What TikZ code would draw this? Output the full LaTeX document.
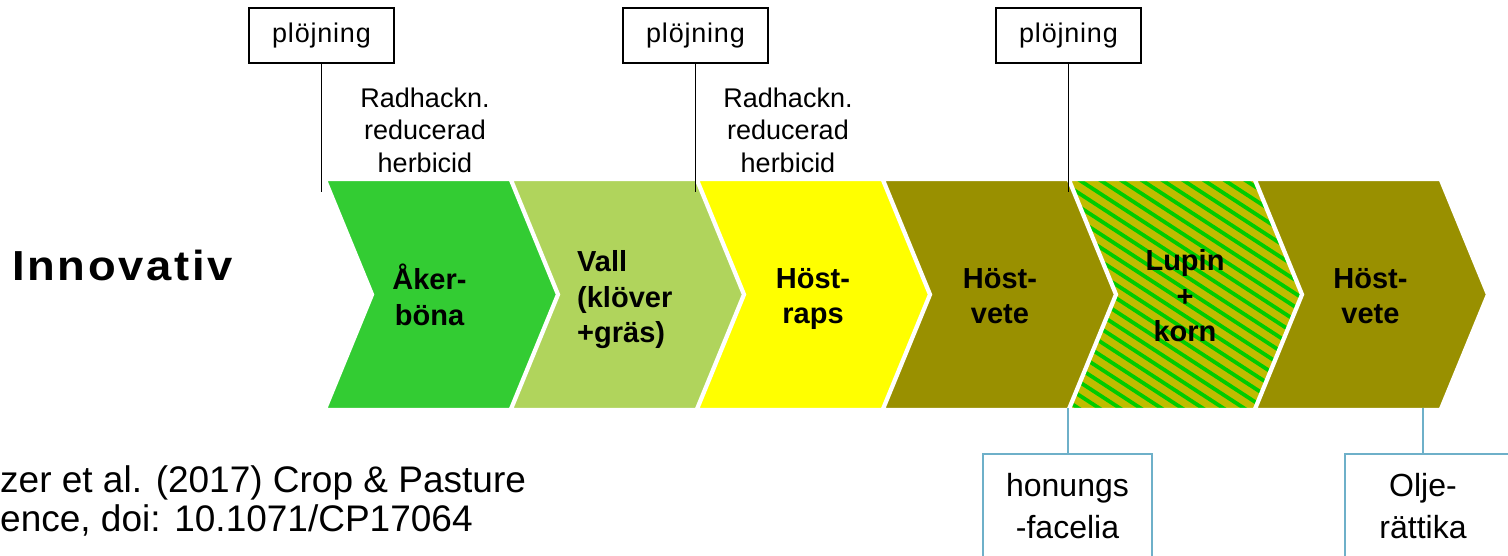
\documentclass[tikz,border=0pt]{standalone}
\usepackage{fontspec}
\setmainfont{Liberation Sans}
\definecolor{cA}{HTML}{33CC33}
\definecolor{cB}{HTML}{B0D45C}
\definecolor{cC}{HTML}{FFFF00}
\definecolor{cD}{HTML}{999000}
\definecolor{stripebg}{HTML}{C0BC00}
\definecolor{stripefg}{HTML}{00CC00}
\definecolor{bluel}{HTML}{6EB0C9}
\newcommand\lsp{\kern2.5pt }
\newcommand\psp{\kern0.8pt }
\begin{document}
\begin{tikzpicture}[x=1pt,y=-1pt,
  lab/.style={font=\bfseries\fontsize{29}{35.5}\selectfont, align=center, inner sep=0pt},
  plbox/.style={draw=black, line width=1.3pt, minimum width=145, minimum height=55, inner sep=0pt, font=\fontsize{27}{32}\selectfont},
  note/.style={font=\fontsize{27}{32.5}\selectfont, align=center, inner sep=0pt},
  bbox/.style={draw=bluel, line width=2pt, minimum width=169, minimum height=105, inner sep=0pt},
  btext/.style={font=\fontsize{32}{42}\selectfont, align=center, inner sep=0pt},
  cite/.style={font=\fontsize{37}{40}\selectfont, inner sep=0pt, anchor=base west},
  edge/.style={draw=white, line width=2.4pt, line join=miter}
]
\useasboundingbox (0,0) rectangle (1508,555);
\clip (0,0) rectangle (1508,555);

% chevrons
\foreach \x/\c in {326/cA, 512/cB, 698/cC, 884/cD} {
  \path[fill=\c, edge] (\x,180) -- ++(184,0) -- ++(47,114.5) -- ++(-47,114.5) -- ++(-184,0) -- ++(47,-114.5) -- cycle;
}
% striped chevron
\begin{scope}
  \clip (1070,180) -- ++(184,0) -- ++(47,114.5) -- ++(-47,114.5) -- ++(-184,0) -- ++(47,-114.5) -- cycle;
  \fill[stripebg] (1060,170) rectangle (1310,420);
  \foreach \k in {-24,...,14} {
    \draw[stripefg, line width=3.8pt] ({1000+\k*20.7},115) -- ++(560,364);
  }
\end{scope}
\path[edge] (1070,180) -- ++(184,0) -- ++(47,114.5) -- ++(-47,114.5) -- ++(-184,0) -- ++(47,-114.5) -- cycle;
\path[fill=cD, edge] (1256,180) -- ++(184,0) -- ++(47,114.5) -- ++(-47,114.5) -- ++(-184,0) -- ++(47,-114.5) -- cycle;

% chevron labels
\node[lab] (l1) at (429.5,295) {Åker-\\böna};
\node[lab, align=left, anchor=west] (l2) at (577,300) {Vall\\(klöver\\+gräs)};
\node[lab] (l3) at (813,299) {Höst-\\raps};
\node[lab] (l4) at (1000,296) {Höst-\\vete};
\node[lab] (l5) at (1185,296) {Lupin\\+\\korn};
\node[lab] (l6) at (1370.5,296) {Höst-\\vete};

% title
\node[inner sep=0pt, anchor=base west, font=\bfseries\fontsize{42}{48}\selectfont] (title) at (12,280) {\scalebox{1.08}[1]{I\lsp n\lsp n\lsp o\lsp v\lsp a\lsp t\lsp i\lsp v}};

% ploughing boxes
\node[plbox] (pl1) at (321.5,35.5) {p\psp l\psp ö\psp j\psp n\psp i\psp n\psp g};
\node[plbox] (pl2) at (695.5,35.5) {p\psp l\psp ö\psp j\psp n\psp i\psp n\psp g};
\node[plbox] (pl3) at (1068.5,35.5) {p\psp l\psp ö\psp j\psp n\psp i\psp n\psp g};
\coordinate (t1) at (321.5,192);
\coordinate (t2) at (695.5,192);
\coordinate (t3) at (1068.5,192);
\draw[line width=1.3pt] (pl1.south) -- (t1);
\draw[line width=1.3pt] (pl2.south) -- (t2);
\draw[line width=1.3pt] (pl3.south) -- (t3);

% notes
\node[note] (r1) at (425,130) {Radhackn.\\reducerad\\herbicid};
\node[note] (r2) at (788,130) {Radhackn.\\reducerad\\herbicid};

% bottom boxes
\node[bbox, btext] (hb) at (1067.5,506.5) {honungs\\-facelia};
\node[bbox] (ob) at (1429.5,506.5) {};
\node[btext] (ot) at (1423,506.5) {Olje-\\rättika};
\coordinate (b1) at (1067.5,408);
\coordinate (b2) at (1423,408);
\draw[bluel, line width=2pt] (b1) -- (hb.north);
\draw[bluel, line width=2pt] (b2) -- (b2 |- ob.north);

% citation
\node[cite] (c1) at (0,492) {zer et al. (2017) Crop \& Pasture};
\node[cite] (c2) at (0,531) {ence, doi: 10.1071/CP17064};
\end{tikzpicture}
\end{document}
